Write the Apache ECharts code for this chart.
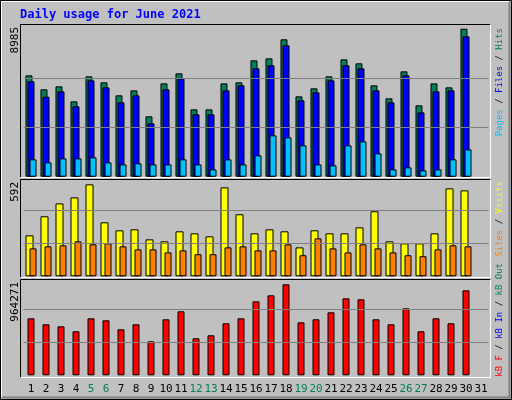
<!DOCTYPE html>
<html><head><meta charset="utf-8">
<script src="https://cdn.jsdelivr.net/npm/echarts@6/dist/echarts.min.js"></script>
<style>html,body{margin:0;padding:0;background:#c0c0c0}#c{width:512px;height:400px}</style>
</head><body><div id="c"></div>
<script>
const days = ['1','2','3','4','5','6','7','8','9','10','11','12','13','14','15','16','17','18','19','20','21','22','23','24','25','26','27','28','29','30','31'];
const weekends = ['5','6','12','13','19','20','26','27'];
const hits = [6153,5303,5485,4574,6092,5728,4939,5242,3663,5667,6274,4088,4088,5667,5728,7064,7185,8339,4878,5364,6092,7125,6882,5546,4756,6396,4331,5667,5424,8985,null];
const files = [5789,4858,5181,4271,5849,5424,4514,4939,3238,5303,5971,3785,3785,5242,5546,6578,6760,7975,4635,5121,5849,6760,6578,5242,4514,6153,3906,5181,5242,8521,null];
const pages = [1052,870,1113,1113,1174,870,749,810,749,749,1052,749,445,1052,749,1295,2510,2388,1903,749,688,1903,2145,1417,445,567,385,445,1052,1660,null];
const visits = [245,359,436,472,550,323,275,281,221,209,269,257,239,532,371,257,281,269,173,275,257,257,293,389,209,197,197,257,526,514,null];
const sites = [167,179,185,209,191,197,179,161,161,143,155,132,132,173,179,155,155,191,126,227,167,143,191,167,143,126,120,161,185,179,null];
const kbytes = [555186,496745,477265,428564,555186,535706,448045,496745,331163,545446,623366,360384,389604,506485,555186,720767,779208,886349,516225,545446,613626,749988,740248,545446,496745,652597,428564,555186,506485,827909,null];
const maxLabels = ['8985','592','964271'];
const gridLines = [[2995,5990],[197.3,394.7],[321424,642847]];

const mono = 'DejaVu Sans Mono';
const chart = echarts.init(document.getElementById('c'));
const grids = [
  {left:23.5, width:465, top:25, height:151.7},
  {left:23.5, width:465, top:180, height:96.3},
  {left:23.5, width:465, top:280.3, height:95}
];
const ymax = [9209, 576, 925310];
const ml = i => ({silent:true, symbol:'none', label:{show:false}, lineStyle:{color:'#808080', type:'solid', width:1},
  data: gridLines[i].map(v => ({yAxis:v}))});
const bs = c => ({color:c, borderColor:'#000', borderWidth:1});
function frame(x,y,w,h){
  return [
    {type:'line', shape:{x1:x,y1:y,x2:x+w,y2:y}, style:{stroke:'#000',lineWidth:1}},
    {type:'line', shape:{x1:x,y1:y,x2:x,y2:y+h}, style:{stroke:'#000',lineWidth:1}},
    {type:'line', shape:{x1:x+w,y1:y,x2:x+w,y2:y+h}, style:{stroke:'#fff',lineWidth:1}},
    {type:'line', shape:{x1:x,y1:y+h,x2:x+w,y2:y+h}, style:{stroke:'#fff',lineWidth:1}}
  ];
}
const vtext = (x,y,rich,text,size) => ({type:'text', x:x, y:y, rotation:Math.PI/2,
  style:{text:text, rich:rich, font:size+'px '+mono, align:'right', verticalAlign:'middle', fill:'#000'}});
const R = s => ({font:'9px '+mono, fill:s});
chart.setOption({
  animation:false,
  backgroundColor:'#c0c0c0',
  grid: grids,
  xAxis: grids.map((g,i)=>({type:'category', gridIndex:i, data:days,
    axisLine:{show:false}, axisTick:{show:false}, splitLine:{show:false},
    axisLabel:{show:i===2, margin:8, fontFamily:mono, fontSize:11, interval:0,
      formatter: v => weekends.includes(v) ? '{w|'+v+'}' : '{n|'+v+'}',
      rich:{w:{color:'#00805c',fontFamily:mono,fontSize:11}, n:{color:'#000',fontFamily:mono,fontSize:11}}}})),
  yAxis: grids.map((g,i)=>({type:'value', gridIndex:i, min:0, max:ymax[i],
    axisLine:{show:false}, axisTick:{show:false}, axisLabel:{show:false}, splitLine:{show:false}})),
  series: [
    {type:'bar', xAxisIndex:0, yAxisIndex:0, data:hits, barWidth:7, barGap:'-71%', itemStyle:bs('#00805c'), markLine:ml(0)},
    {type:'bar', xAxisIndex:0, yAxisIndex:0, data:files, barWidth:7, barGap:'-71%', itemStyle:bs('#0000ff')},
    {type:'bar', xAxisIndex:0, yAxisIndex:0, data:pages, barWidth:7, barGap:'-71%', itemStyle:bs('#00c0ff')},
    {type:'bar', xAxisIndex:1, yAxisIndex:1, data:visits, barWidth:8, barGap:'-50%', itemStyle:bs('#ffff00'), markLine:ml(1)},
    {type:'bar', xAxisIndex:1, yAxisIndex:1, data:sites, barWidth:7, barGap:'-50%', itemStyle:bs('#ff8000')},
    {type:'bar', xAxisIndex:2, yAxisIndex:2, data:kbytes, barWidth:7, barCategoryGap:'50%', itemStyle:bs('#ff0000'), markLine:ml(2)}
  ],
  graphic: [
    {type:'rect', shape:{x:0.5,y:0.5,width:511,height:399}, style:{fill:'none',stroke:'#000',lineWidth:1}, z:-1},
    {type:'line', shape:{x1:1.5,y1:1.5,x2:510.5,y2:1.5}, style:{stroke:'#fff',lineWidth:1}},
    {type:'line', shape:{x1:1.5,y1:1.5,x2:1.5,y2:398.5}, style:{stroke:'#fff',lineWidth:1}},
    {type:'line', shape:{x1:1.5,y1:397.5,x2:510.5,y2:397.5}, style:{stroke:'#808080',lineWidth:2}},
    {type:'line', shape:{x1:509.5,y1:1.5,x2:509.5,y2:398.5}, style:{stroke:'#808080',lineWidth:2}},
    ...frame(20.5,24.5,470,153),
    ...frame(20.5,179.5,470,98),
    ...frame(20.5,279.5,470,98),
    {type:'text', x:20, y:15, style:{text:'Daily usage for June 2021', font:'bold 12px '+mono, fill:'#0000ff', verticalAlign:'middle'}},
    vtext(15,27,null,maxLabels[0],11),
    vtext(15,182,null,maxLabels[1],11),
    vtext(15,282,null,maxLabels[2],11),
    vtext(500,28,{p:R('#00c0ff'),f:R('#0000ff'),h:R('#00805c'),s:R('#000')},'{p|Pages}{s| / }{f|Files}{s| / }{h|Hits}',9),
    vtext(500,181,{a:R('#ff8000'),b:R('#ffff00'),s:R('#000')},'{a|Sites}{s| / }{b|Visits}',9),
    vtext(500,263,{a:R('#ff0000'),b:R('#0000ff'),c:R('#00805c'),s:R('#000')},'{a|kB F}{s| / }{b|kB In}{s| / }{c|kB Out}',9)
  ]
});
</script></body></html>
